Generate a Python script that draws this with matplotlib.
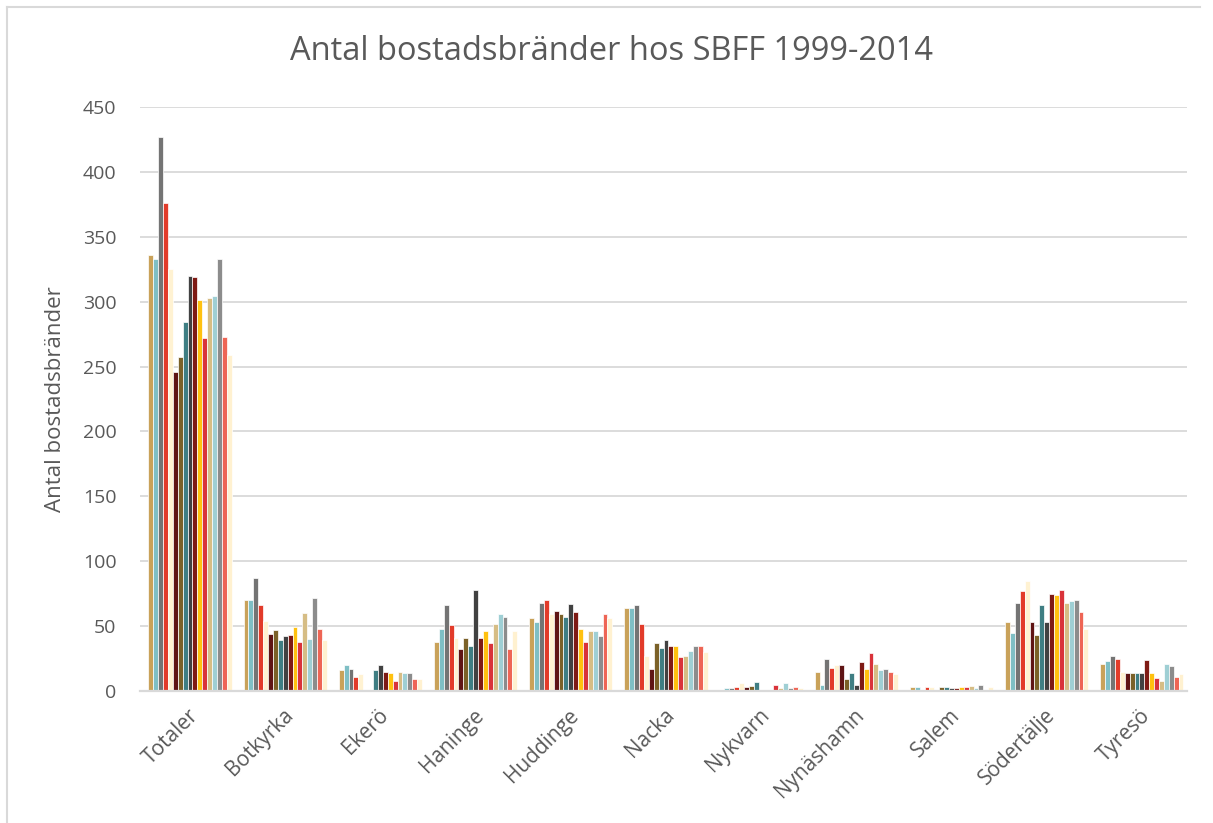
import numpy as np
import matplotlib.pyplot as plt
from matplotlib.lines import Line2D

# Antal bostadsbränder per kommun, 18 staplar per grupp (läst ur bilden)
kommuner = ['Totaler', 'Botkyrka', 'Ekerö', 'Haninge', 'Huddinge', 'Nacka',
            'Nykvarn', 'Nynäshamn', 'Salem', 'Södertälje', 'Tyresö']

totaler    = [1, 336, 333, 427, 376, 325, 246, 257, 284, 320, 319, 301, 272, 303, 304, 333, 273, 259]
botkyrka   = [0, 70, 70, 87, 66, 54, 44, 47, 39, 42, 43, 49, 38, 60, 40, 72, 48, 39]
ekero      = [0, 16, 20, 17, 11, 13, 0, 0, 16, 20, 15, 14, 8, 15, 14, 14, 9, 9]
haninge    = [0, 38, 48, 66, 51, 41, 32, 41, 35, 78, 41, 46, 37, 52, 59, 57, 32, 46]
huddinge   = [0, 56, 53, 68, 70, 59, 62, 59, 57, 67, 61, 48, 38, 46, 46, 42, 59, 56]
nacka      = [0, 64, 64, 66, 52, 27, 17, 37, 33, 39, 35, 35, 26, 27, 31, 35, 35, 30]
nykvarn    = [0, 0, 2, 2, 3, 6, 3, 4, 7, 0, 1, 1, 5, 2, 6, 2, 3, 2]
nynashamn  = [0, 15, 5, 25, 18, 20, 20, 9, 14, 5, 22, 17, 29, 21, 16, 17, 15, 13]
salem      = [0, 3, 3, 1, 3, 3, 1, 3, 3, 2, 2, 3, 3, 4, 2, 5, 0, 3]
sodertalje = [0, 53, 45, 68, 77, 85, 53, 43, 66, 53, 75, 74, 78, 68, 69, 70, 61, 48]
tyreso     = [0, 21, 23, 27, 25, 15, 14, 14, 14, 14, 24, 14, 10, 8, 21, 19, 11, 13]

grupper = [totaler, botkyrka, ekero, haninge, huddinge, nacka,
           nykvarn, nynashamn, salem, sodertalje, tyreso]

farger = ['#9E1F1F', '#C9A25A', '#7FBFC5', '#747474', '#E23B2A', '#FFF2D2',
          '#5F1414', '#7B6128', '#3F7E83', '#414141', '#7E1A14', '#FFC10F',
          '#D9333A', '#D6BD85', '#9FCFD4', '#8C8C8C', '#EE6555', '#FFF1D0']

textfarg = '#595959'
gridfarg = '#D9D9D9'
plt.rcParams['font.family'] = ['Open Sans', 'DejaVu Sans']

data = np.array(grupper)  # kommuner x serier
n_ser = data.shape[1]
x = np.arange(len(kommuner))
grupp_bredd = 0.926
steg = grupp_bredd / n_ser

fig = plt.figure(figsize=(12.13, 8.23), dpi=100)
ax = fig.add_axes([140 / 1213, 1 - 691 / 823, 1047 / 1213, 584 / 823])

for k in range(n_ser):
    pos = x - grupp_bredd / 2 + (k + 0.5) * steg
    ax.bar(pos, data[:, k], width=steg, color=farger[k],
           edgecolor='white', linewidth=0.5, zorder=3)

ax.set_xlim(-0.5, len(kommuner) - 0.5)
ax.set_ylim(0, 450)
ax.set_yticks(np.arange(0, 451, 50))
ax.yaxis.grid(True, color=gridfarg, linewidth=1.3, zorder=0)
for s in ['top', 'right', 'left']:
    ax.spines[s].set_visible(False)
ax.spines['bottom'].set_color(gridfarg)
ax.spines['bottom'].set_linewidth(1.6)
ax.spines['bottom'].set_zorder(4)
ax.tick_params(axis='both', length=0, colors=textfarg)
ax.tick_params(axis='y', pad=17, labelsize=14)
ax.set_xticks(x)
ax.set_xticklabels(kommuner, rotation=45, ha='right', rotation_mode='anchor')
ax.tick_params(axis='x', pad=10, labelsize=15)

ax.set_ylabel('Antal bostadsbränder', color=textfarg, fontsize=16, labelpad=12)
fig.text(612 / 1213, 1 - 52 / 823, 'Antal bostadsbränder hos SBFF 1999-2014',
         ha='center', va='center', fontsize=23.5, color=textfarg)

# ram runt diagrammet (vänster och övre kant syns)
fig.add_artist(Line2D([7 / 1213, 7 / 1213], [0, 1 - 7 / 823],
                      transform=fig.transFigure, color=gridfarg, linewidth=1.5))
fig.add_artist(Line2D([7 / 1213, 1200 / 1213], [1 - 7 / 823, 1 - 7 / 823],
                      transform=fig.transFigure, color=gridfarg, linewidth=1.5))

fig.savefig('out.png', dpi=100)
